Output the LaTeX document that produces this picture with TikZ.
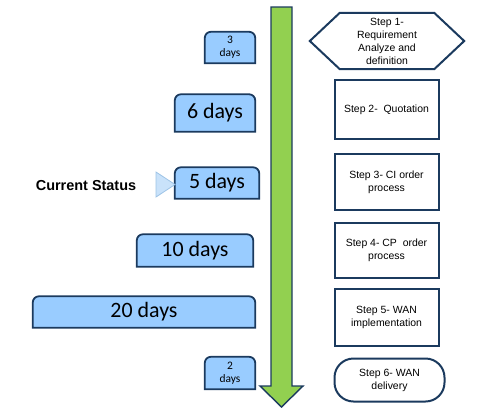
\documentclass[tikz,border=0pt]{standalone}
\usepackage{fontspec}
\setmainfont{Liberation Sans}
\newfontfamily\daysfont{Carlito}
\usetikzlibrary{backgrounds}
\definecolor{navy}{HTML}{1B3A5E}
\definecolor{dayblue}{HTML}{99CCFF}
\definecolor{arrowgreen}{HTML}{92D050}
\definecolor{pointblue}{HTML}{C9E2FA}
\definecolor{pointline}{HTML}{9DC3E6}
\begin{document}
\begin{tikzpicture}[x=1bp,y=-1bp,
		daybox/.style={inner sep=0pt,align=center,font=\daysfont},
		dayshape/.style={draw=navy,fill=dayblue,line width=1.8bp},
		stepbox/.style={draw=navy,line width=2bp,inner sep=0pt,minimum width=104bp,align=center,font=\fontsize{10.5}{13}\selectfont},
	]
	\useasboundingbox (0,0) rectangle (480,413);
	% time line
	\draw[navy,line width=1.4bp,fill=arrowgreen]
		(271,7)--(292,7)--(292,386)--(303,386)--(281.5,407)--(260,386)--(271,386)--cycle;
	% durations
	\node[daybox,minimum width=50bp,minimum height=31bp,font=\daysfont\fontsize{11.5}{13}\selectfont] (d1) at (230,47.5) {3\\days};
	\node[daybox,minimum width=80bp,minimum height=37bp,font=\daysfont\fontsize{22}{24}\selectfont] (d2) at (215,113) {6 days};
	\node[daybox,minimum width=84bp,minimum height=31bp,font=\daysfont\fontsize{22}{24}\selectfont] (d3) at (217,183) {5 days};
	\node[daybox,minimum width=116bp,minimum height=32bp,font=\daysfont\fontsize{22}{24}\selectfont] (d4) at (195,250.5) {10 days};
	\node[daybox,minimum width=222bp,minimum height=31bp,font=\daysfont\fontsize{22}{24}\selectfont] (d5) at (144,312) {20 days};
	\node[daybox,minimum width=50bp,minimum height=32bp,font=\daysfont\fontsize{11.5}{13}\selectfont] (d6) at (230,373) {2\\days};
	\begin{scope}[on background layer]
		\foreach \d in {d1,d2,d3,d4,d5,d6}
			\draw[dayshape] (\d.south west)--([yshift=-6bp]\d.north west)
				arc[start angle=180,end angle=90,radius=6bp]--([xshift=-6bp]\d.north east)
				arc[start angle=90,end angle=0,radius=6bp]--(\d.south east)--cycle;
	\end{scope}
	% steps
	\node[inner sep=0pt,minimum width=154bp,minimum height=56bp,align=center,font=\fontsize{10.5}{13}\selectfont]
		(s1) at (387,41) {Step 1-\\Requirement\\Analyze and\\definition};
	\draw[navy,line width=2bp] (s1.west)--([xshift=30bp]s1.north west)--([xshift=-30bp]s1.north east)
		--(s1.east)--([xshift=-30bp]s1.south east)--([xshift=30bp]s1.south west)--cycle;
	\node[stepbox,minimum height=59bp] (s2) at (386.5,109.5) {Step 2-\ \ Quotation};
	\node[stepbox,minimum height=56bp] (s3) at (386.5,182) {Step 3- CI order\\process};
	\node[stepbox,minimum height=55bp] (s4) at (386.5,250.5) {Step 4- CP\ \ order\\process};
	\node[stepbox,minimum height=57bp] (s5) at (386.5,317.5) {Step 5- WAN\\implementation};
	\node[stepbox,rounded corners=19bp,minimum width=110bp,minimum height=43bp] (s6) at (389.5,380) {Step 6- WAN\\delivery};
	% where we are
	\node[font=\bfseries\fontsize{14.5}{16}\selectfont] (cur) at (86,186) {Current Status};
	\draw[pointline,fill=pointblue,line width=0.8bp] (156,172)--(175,184.5)--(156,197)--cycle;
\end{tikzpicture}
\end{document}
